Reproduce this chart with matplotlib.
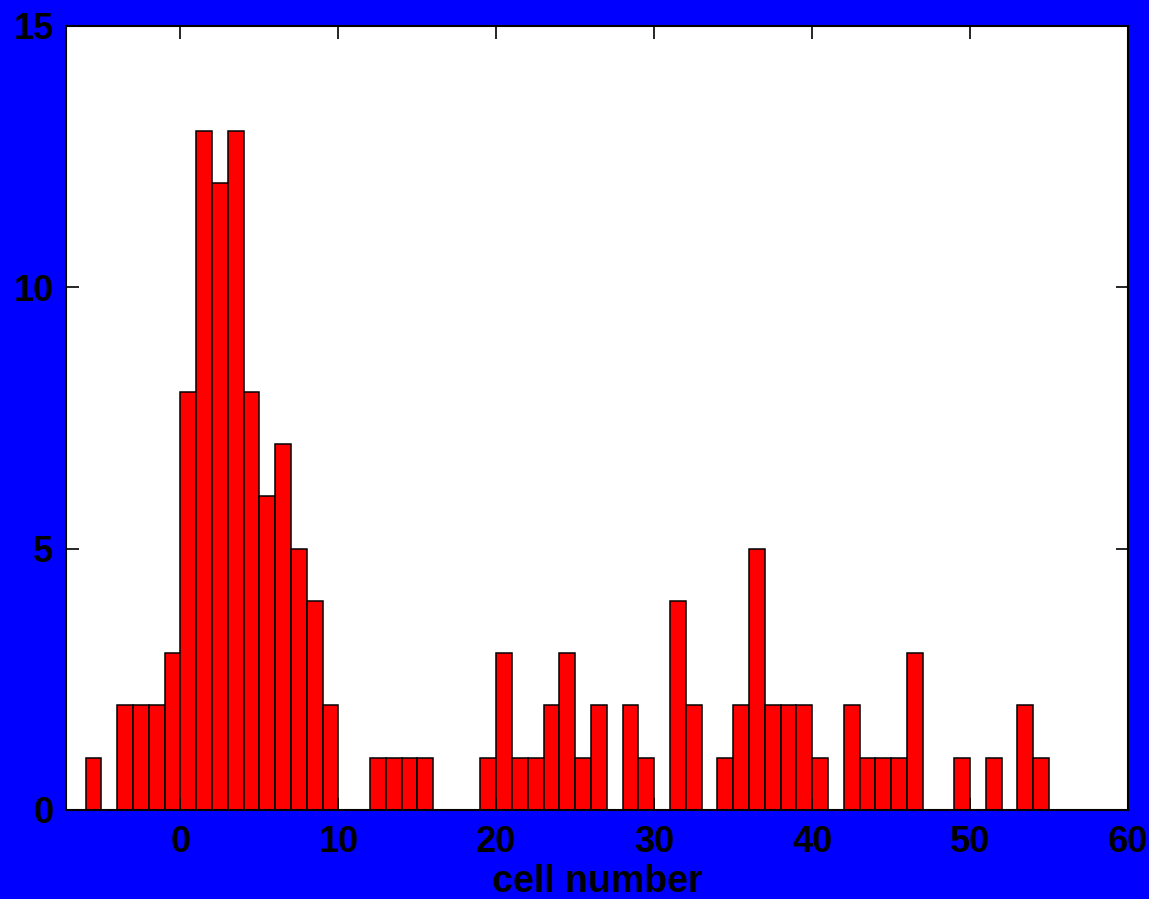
import numpy as np
import matplotlib
matplotlib.use("Agg")
import matplotlib.pyplot as plt

# histogram bins: left edges (width 1) and counts
bin_left = np.arange(-6, 55)
counts = [1, 0, 2, 2, 2, 3, 8, 13, 12, 13, 8, 6, 7, 5, 4, 2,   # -6 .. 9
          0, 0, 1, 1, 1, 1, 0, 0, 0, 1, 3, 1, 1, 2, 3, 1, 2,   # 10 .. 26
          0, 2, 1, 0, 4, 2, 0, 1, 2, 5, 2, 2, 2, 1, 0,         # 27 .. 41
          2, 1, 1, 1, 3, 0, 0, 1, 0, 1, 0, 2, 1]               # 42 .. 54

x_ticks = [0, 10, 20, 30, 40, 50, 60]
y_ticks = [0, 5, 10, 15]

plt.rcParams['font.family'] = ['Liberation Sans', 'DejaVu Sans']
plt.rcParams['font.weight'] = 'bold'

fig = plt.figure(figsize=(11.49, 8.99), dpi=100, facecolor=(0, 0, 1))
ax = fig.add_axes([0.0574, 0.099, 0.9243, 0.8721])
ax.set_facecolor("white")

ax.bar(bin_left, counts, width=1.0, align="edge", color=(1, 0, 0),
       edgecolor="black", linewidth=1.1)

ax.set_xlim(-7.25, 60)
ax.set_ylim(0, 15)
ax.set_xticks(x_ticks)
ax.set_yticks(y_ticks)
ax.tick_params(direction="in", length=9, width=1.2, top=True, right=True,
               labelsize=26, colors="black")
ax.tick_params(axis="x", pad=11)
ax.tick_params(axis="y", pad=9)
for lab in ax.get_xticklabels() + ax.get_yticklabels():
    lab.set_fontweight("bold")
for s in ax.spines.values():
    s.set_linewidth(1.5)
    s.set_color("black")

ax.set_xlabel("cell number", fontsize=27, fontweight="bold", labelpad=3)

fig.savefig("out.png", dpi=100, facecolor=fig.get_facecolor())
